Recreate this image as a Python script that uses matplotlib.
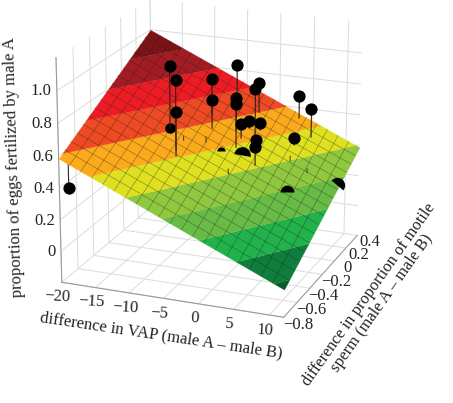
#!/bin/python
import numpy as np
import matplotlib
matplotlib.use("Agg")
import matplotlib.pyplot as plt
from matplotlib.markers import MarkerStyle
from matplotlib.transforms import Affine2D
from mpl_toolkits.mplot3d.art3d import Poly3DCollection

# axis ranges and ticks
x_range = [-20, 12]
y_range = [-0.8, 0.4]
z_range = [-0.2, 1.2]
x_ticks = [-20, -15, -10, -5, 0, 5, 10]
x_labels = ["\u221220", "\u221215", "\u221210", "\u22125", "0", "5", "10"]
y_ticks = [-0.8, -0.6, -0.4, -0.2, 0, 0.2, 0.4]
y_labels = ["\u22120.8", "\u22120.6", "\u22120.4", "\u22120.2", "0", "0.2", "0.4"]
z_ticks = [0, 0.2, 0.4, 0.6, 0.8, 1.0]
z_labels = ["0", "0.2", "0.4", "0.6", "0.8", "1.0"]

# fitted plane z = a*x + b*y + c
plane_a = -0.0191
plane_b = 0.3466
plane_c = 0.4787

# colour bands on the plane
band_levels = [-1, 0, 0.1, 0.2, 0.3, 0.4, 0.5, 0.6, 0.7, 0.8, 0.9, 2]
band_colours = ["#0b5a2c", "#0f7d3c", "#21b24b", "#68bb45", "#8fc73f", "#dfe01f",
                "#fbaa1b", "#ee4a23", "#ed1c24", "#a31c24", "#7b1416"]

# points above the plane
point_x = [-10.44, -7.84, -8.25, -6.77, -5.86, -5.03, -3.07, -1.93, -1.73, -0.29,
           -1.98, -1.76, -0.40, 0.48, 1.35, 3.21, 5.81, 4.40]
point_y = [-0.202, -0.361, -0.323, 0.046, -0.042, 0.247, 0.037, -0.078, 0.250, 0.042,
           0.002, 0.101, 0.130, -0.022, -0.125, 0.367, 0.281, 0.159]
point_z = [1.001, 0.980, 0.765, 0.856, 0.756, 0.889, 0.756, 0.763, 0.787, 0.826,
           0.607, 0.593, 0.577, 0.526, 0.525, 0.689, 0.647, 0.495]

# the one point seen below the plane
low_x = [-18.98]
low_y = [-0.770]
low_z = [0.394]

# points sitting in the plane, only part of them shows
sunk_x = [-10.44, -0.74, 6.58, 11.73, -3.31]
sunk_y = [-0.202, -0.108, -0.182, 0.053, -0.161]
sunk_z = [0.609, 0.455, 0.289, 0.272, 0.486]
sunk_size = [7.6, 12, 10, 11, 6]
sunk_turn = [0, -10, 0, -40, 0]
sunk_fill = ["full", "top", "top", "top", "top"]

# stem tips poking through the plane
stub_x = [-0.99, 4.96, 7.60, -5.55, -8.11]
stub_y = [-0.285, 0.037, 0.022, -0.160, -0.231]
stub_z = [0.43, 0.425, 0.365, 0.565, 0.58]


def plane(x, y):
    return plane_a * x + plane_b * y + plane_c


def clip(poly, level, keep_above):
    """cut a polygon on the plane at one height"""
    out = []
    for i in range(len(poly)):
        p = poly[i]
        q = poly[(i + 1) % len(poly)]
        dp = plane(*p) - level
        dq = plane(*q) - level
        if not keep_above:
            dp, dq = -dp, -dq
        if dp >= 0:
            out.append(p)
        if dp * dq < 0:
            t = dp / (dp - dq)
            out.append((p[0] + t * (q[0] - p[0]), p[1] + t * (q[1] - p[1])))
    return out


plt.rcParams["font.family"] = ["Liberation Serif", "DejaVu Serif"]
plt.rcParams["grid.color"] = "#dcdcdc"
plt.rcParams["grid.linewidth"] = 0.7

fig = plt.figure(figsize=(4.53, 4.03), dpi=100)
ax = fig.add_axes([14.1 / 453, (403 - 350.1) / 403, 388.6 / 453, 388.6 / 403],
                  projection="3d", computed_zorder=False)
ax.patch.set_alpha(0)
ax.set_xlim(*x_range)
ax.set_ylim(*y_range)
ax.set_zlim(*z_range)
ax.view_init(19.251, -68.474)
ax.set_proj_type("persp", focal_length=1.002)
ax.set_box_aspect((1, 0.977, 0.995))

ax.set_xticks(x_ticks)
ax.set_xticklabels(x_labels)
ax.set_yticks(y_ticks)
ax.set_yticklabels(y_labels)
ax.set_zticks(z_ticks)
ax.set_zticklabels(z_labels)
ax.zaxis.set_ticks_position("lower")
ax.tick_params(axis="both", labelsize=12, colors="#222222")
ax.xaxis.set_tick_params(pad=-1)
ax.yaxis.set_tick_params(pad=1)
ax.zaxis.set_tick_params(pad=-5.5)
for axis in [ax.xaxis, ax.yaxis, ax.zaxis]:
    axis.set_pane_color((1, 1, 1, 0))
    axis.pane.set_edgecolor("#bdbdbd")
    axis.line.set_color("#9a9a9a")
    axis.line.set_linewidth(0.8)
    axis._axinfo["tick"]["inward_factor"] = 0
    axis._axinfo["tick"]["outward_factor"] = 0
    for t in axis.get_major_ticks():
        t.label1.set_va("center")
for t in ax.yaxis.get_major_ticks():
    t.label1.set_va("bottom")
for t in ax.zaxis.get_major_ticks():
    t.label1.set_ha("right")
for t in ax.xaxis.get_major_ticks():
    t.label1.set_rotation(-3)

# low point first so the plane can cover its stem
for x, y, z in zip(low_x, low_y, low_z):
    ax.plot([x, x], [y, y], [z, plane(x, y)], color="#2b2b2b", lw=0.8, zorder=1)
ax.plot(low_x, low_y, low_z, "o", color="black", ms=8.8, mew=0, zorder=1.5)

# plane, one polygon for each colour band
rect = [(x_range[0], y_range[0]), (x_range[1], y_range[0]),
        (x_range[1], y_range[1]), (x_range[0], y_range[1])]
for i in range(len(band_colours)):
    poly = clip(clip(rect, band_levels[i], True), band_levels[i + 1], False)
    if len(poly) < 3:
        continue
    verts = [[(px, py, plane(px, py)) for px, py in poly]]
    ax.add_collection3d(Poly3DCollection(verts, facecolor=band_colours[i],
                                         edgecolor=band_colours[i], linewidth=0.2, zorder=2))

# mesh lines on top of the plane, none along its outer edge
for gx in np.linspace(*x_range, 21)[1:-1]:
    ax.plot([gx, gx], y_range, [plane(gx, y_range[0]), plane(gx, y_range[1])],
            color="#1c1c1c", lw=0.45, alpha=0.45, zorder=3)
for gy in np.linspace(*y_range, 17)[1:-1]:
    ax.plot(x_range, [gy, gy], [plane(x_range[0], gy), plane(x_range[1], gy)],
            color="#1c1c1c", lw=0.45, alpha=0.45, zorder=3)

# stem tips
for x, y, z in zip(stub_x, stub_y, stub_z):
    ax.plot([x, x], [y, y], [plane(x, y), z], color="#3a3a20", lw=0.7, zorder=4)

# sunk points
for x, y, z, size, turn, fill in zip(sunk_x, sunk_y, sunk_z, sunk_size, sunk_turn, sunk_fill):
    style = MarkerStyle("o", fillstyle=fill, transform=Affine2D().rotate_deg(turn))
    ax.plot([x], [y], [z], marker=style, ms=size, mfc="black", mfcalt="none", mew=0,
            ls="none", zorder=4)

# stems and points above the plane
for x, y, z in zip(point_x, point_y, point_z):
    ax.plot([x, x], [y, y], [plane(x, y), z], color="#2b2015", lw=0.8, zorder=4)
ax.plot(point_x, point_y, point_z, "o", color="black", ms=8.8, mew=0, zorder=5)

fig.text(161 / 453, 1 - 336 / 403, "difference in VAP (male A \u2013 male B)", fontsize=12,
         rotation=-8.5, ha="center", va="center", color="#222222")
fig.text(14 / 453, 1 - 167 / 403, "proportion of eggs fertilized by male A", fontsize=12,
         rotation=91.8, ha="center", va="center", color="#222222")
fig.text(375 / 453, 1 - 299 / 403, "difference in proportion of motile\nsperm (male A \u2013 male B)",
         fontsize=11.8, rotation=54.8, ha="center", va="center", ma="center",
         linespacing=1.0, color="#222222")

fig.savefig("out.png", dpi=100)
